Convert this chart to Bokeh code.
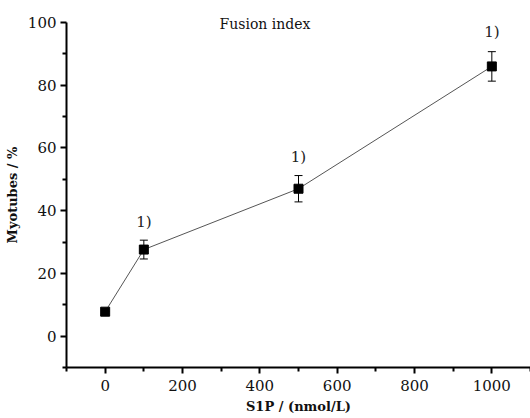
from bokeh.plotting import figure
from bokeh.models import Whisker, ColumnDataSource, Range1d, FixedTicker, Title
from bokeh.core.properties import value
from bokeh.embed import file_html
from bokeh.resources import INLINE

conc = [0, 100, 500, 1000]
myotubes = [7.8, 27.6, 47.0, 86.0]
err = [0.0, 3.0, 4.2, 4.7]
sig_x = [100, 500, 1000]
sig_y = [36.5, 57.0, 97.0]
sig_text = ["1)", "1)", "1)"]

FONT = "DejaVu Serif"

p = figure(width=530, height=418, output_backend="svg", toolbar_location=None,
           x_range=Range1d(-100, 1100), y_range=Range1d(-10, 100),
           min_border_left=66, min_border_top=22, min_border_right=0, min_border_bottom=51)
p.outline_line_color = None
p.grid.grid_line_color = None
p.background_fill_color = "white"

up = [v + e for v, e in zip(myotubes, err)]
lo = [v - e for v, e in zip(myotubes, err)]
src = ColumnDataSource(dict(x=conc, y=myotubes, upper=up, lower=lo))

p.line("x", "y", source=src, line_color="#555555", line_width=1)
w = Whisker(base="x", upper="upper", lower="lower", source=src, line_color="black", line_width=1)
w.upper_head.size = 8
w.lower_head.size = 8
w.upper_head.line_color = "black"
w.lower_head.line_color = "black"
p.add_layout(w)
p.scatter("x", "y", source=src, marker="square", size=9, fill_color="black", line_color="black")

sig_src = ColumnDataSource(dict(x=sig_x, y=sig_y, t=sig_text))
p.text("x", "y", text="t", source=sig_src, text_font=value(FONT), text_font_size="15px",
       text_align="center", text_baseline="middle", text_color="#222222")

p.title = Title(text="Fusion index", text_font=FONT, text_font_size="14px", text_font_style="normal",
                align="left", offset=153, standoff=-18, text_color="#111111")

for ax in (p.xaxis[0], p.yaxis[0]):
    ax.axis_line_width = 2
    ax.axis_line_color = "black"
    ax.major_tick_line_width = 2
    ax.minor_tick_line_width = 2
    ax.major_tick_out = 6
    ax.major_tick_in = 0
    ax.minor_tick_out = 4
    ax.minor_tick_in = 0
    ax.major_label_text_font = FONT
    ax.major_label_text_font_size = "15px"
    ax.major_label_text_color = "#111111"
    ax.axis_label_text_font = FONT
    ax.axis_label_text_font_style = "bold"
    ax.axis_label_text_font_size = "13px"
    ax.axis_label_text_color = "#111111"

p.xaxis.ticker = FixedTicker(ticks=[0, 200, 400, 600, 800, 1000],
                             minor_ticks=[-100, 100, 300, 500, 700, 900, 1100])
p.yaxis.ticker = FixedTicker(ticks=[0, 20, 40, 60, 80, 100],
                             minor_ticks=[-10, 10, 30, 50, 70, 90])
p.xaxis.axis_label = "S1P / (nmol/L)"
p.yaxis.axis_label = "Myotubes / %"
p.yaxis.major_label_standoff = 4
p.xaxis.major_label_standoff = 6

open("out.html", "w").write(file_html(p, INLINE))
